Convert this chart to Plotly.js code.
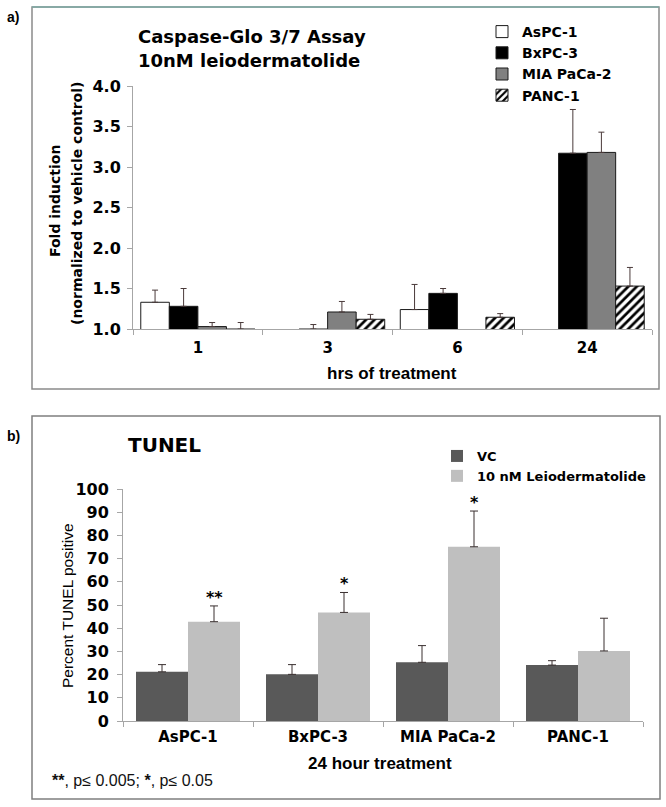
<!DOCTYPE html>
<html>
<head>
<meta charset="utf-8">
<script src="https://cdn.plot.ly/plotly-3.0.1.min.js"></script>
<style>html,body{margin:0;padding:0;background:#fff;}#chart{width:666px;height:807px;}</style>
</head>
<body>
<div id="chart"></div>
<script>
// ---------- Panel a data: Caspase-Glo 3/7 (fold induction) ----------
const hoursCats = ['1', '3', '6', '24'];
const aspc1 = [1.33, null, 1.24, null];
const aspc1Err = [0.15, null, 0.31, null];
const bxpc3 = [1.28, 1.00, 1.44, 3.17];
const bxpc3Err = [0.22, 0.055, 0.06, 0.54];
const miapaca2 = [1.03, 1.21, null, 3.18];
const miapaca2Err = [0.05, 0.13, null, 0.25];
const panc1 = [1.00, 1.12, 1.145, 1.53];
const panc1Err = [0.08, 0.06, 0.045, 0.23];
const yTicksA = [1.0, 1.5, 2.0, 2.5, 3.0, 3.5, 4.0];

// ---------- Panel b data: TUNEL (% positive) ----------
const cellLines = ['AsPC-1', 'BxPC-3', 'MIA PaCa-2', 'PANC-1'];
const vc = [21.2, 20.1, 25.3, 24.1];
const vcErr = [3.1, 4.2, 7.2, 1.9];
const leio = [42.8, 46.8, 75.1, 30.2];
const leioErr = [6.8, 8.6, 15.4, 14.1];
const sigMarks = ['**', '*', '*', ''];

const W = 666, H = 807;
const px = v => v / W;
const py = v => 1 - v / H;

const boldDV = (size) => ({family: 'DejaVu Sans', size: size, weight: 'bold', color: '#000'});
const boldLS = (size) => ({family: 'Liberation Sans', size: size, weight: 'bold', color: '#000'});

const errA = (arr) => ({type: 'data', array: arr, symmetric: false, arrayminus: arr.map(() => 0),
  color: '#4a3a3a', thickness: 1, width: 3});
const errB = (arr) => ({type: 'data', array: arr, symmetric: false, arrayminus: arr.map(() => 0),
  color: '#3a3030', thickness: 1, width: 4});

const wA = 0.22;
const traces = [
  {type: 'bar', name: 'AsPC-1', x: hoursCats, y: aspc1, error_y: errA(aspc1Err),
   width: wA, offset: -2 * wA, xaxis: 'x', yaxis: 'y', legend: 'legend',
   marker: {color: '#ffffff', line: {color: '#1a1a1a', width: 1}}},
  {type: 'bar', name: 'BxPC-3', x: hoursCats, y: bxpc3, error_y: errA(bxpc3Err),
   width: wA, offset: -wA, xaxis: 'x', yaxis: 'y', legend: 'legend',
   marker: {color: '#000000', line: {color: '#1a1a1a', width: 1}}},
  {type: 'bar', name: 'MIA PaCa-2', x: hoursCats, y: miapaca2, error_y: errA(miapaca2Err),
   width: wA, offset: 0, xaxis: 'x', yaxis: 'y', legend: 'legend',
   marker: {color: '#808080', line: {color: '#1a1a1a', width: 1}}},
  {type: 'bar', name: 'PANC-1', x: hoursCats, y: panc1, error_y: errA(panc1Err),
   width: wA, offset: wA, xaxis: 'x', yaxis: 'y', legend: 'legend',
   marker: {color: '#ffffff', line: {color: '#1a1a1a', width: 1},
            pattern: {shape: '/', fgcolor: '#000000', bgcolor: '#ffffff', size: 6, solidity: 0.45}}},
  {type: 'bar', name: 'VC', x: cellLines, y: vc, error_y: errB(vcErr),
   width: 0.4, offset: -0.4, xaxis: 'x2', yaxis: 'y2', legend: 'legend2',
   marker: {color: '#595959'}},
  {type: 'bar', name: '10 nM Leiodermatolide', x: cellLines, y: leio, error_y: errB(leioErr),
   width: 0.4, offset: 0, xaxis: 'x2', yaxis: 'y2', legend: 'legend2',
   marker: {color: '#bfbfbf'}}
];

const annotations = [
  {text: 'a)', x: px(5), y: py(17), xanchor: 'left', yanchor: 'middle', font: boldLS(14)},
  {text: 'Caspase-Glo 3/7 Assay', x: px(136), y: py(36), xanchor: 'left', yanchor: 'middle', font: boldDV(18)},
  {text: '10nM leiodermatolide', x: px(136), y: py(60), xanchor: 'left', yanchor: 'middle', font: boldDV(18)},
  {text: 'Fold induction', x: px(55), y: py(201), textangle: -90, xanchor: 'center', yanchor: 'middle', font: boldDV(14)},
  {text: '(normalized to vehicle control)', x: px(77), y: py(204), textangle: -90, xanchor: 'center', yanchor: 'middle', font: boldDV(14)},
  {text: 'hrs of treatment', x: px(392), y: py(373), xanchor: 'center', yanchor: 'middle', font: boldLS(17)},
  {text: 'b)', x: px(5), y: py(436), xanchor: 'left', yanchor: 'middle', font: boldLS(14)},
  {text: 'TUNEL', x: px(126), y: py(445), xanchor: 'left', yanchor: 'middle', font: boldDV(20)},
  {text: 'Percent TUNEL positive', x: px(67), y: py(606), textangle: -90, xanchor: 'center', yanchor: 'middle',
   font: {family: 'Liberation Sans', size: 15.5, color: '#000'}},
  {text: '24 hour treatment', x: px(380), y: py(763), xanchor: 'center', yanchor: 'middle', font: boldLS(17)},
  {text: '<b>**</b>, p≤ 0.005; <b>*</b>, p≤ 0.05', x: px(50), y: py(780), xanchor: 'left', yanchor: 'middle',
   font: {family: 'Liberation Sans', size: 16, color: '#111'}}
];
cellLines.forEach((c, i) => {
  if (sigMarks[i]) {
    annotations.push({text: sigMarks[i], xref: 'x2', yref: 'y2', x: c, y: leio[i] + leioErr[i],
      xshift: 26, yshift: -3, xanchor: 'center', yanchor: 'bottom', showarrow: false, font: boldDV(16)});
  }
});
annotations.forEach(a => { if (!a.xref) { a.xref = 'paper'; a.yref = 'paper'; } a.showarrow = false; });

const shapes = [
  {type: 'rect', xref: 'paper', yref: 'paper', x0: px(32), x1: px(659), y0: py(389), y1: py(7),
   line: {color: '#8a8a8a', width: 1.5}, fillcolor: 'rgba(0,0,0,0)'},
  {type: 'line', xref: 'paper', yref: 'paper', x0: px(32), x1: px(659), y0: py(7), y1: py(7),
   line: {color: '#7eaaa4', width: 1.5}},
  {type: 'rect', xref: 'paper', yref: 'paper', x0: px(32), x1: px(660), y0: py(799), y1: py(416),
   line: {color: '#7f7f7f', width: 1.5}, fillcolor: 'rgba(0,0,0,0)'}
];

const axisCommon = {showgrid: false, zeroline: false, showline: true, linecolor: '#a6a6a6', linewidth: 1,
  ticks: 'outside', tickcolor: '#a6a6a6', ticklen: 5, tickwidth: 1, fixedrange: true};

const layout = {
  width: W, height: H,
  margin: {l: 0, r: 0, t: 0, b: 0},
  paper_bgcolor: '#ffffff', plot_bgcolor: 'rgba(0,0,0,0)',
  barmode: 'group',
  showlegend: true,
  xaxis: Object.assign({}, axisCommon, {domain: [px(133), px(652)], anchor: 'y', type: 'category',
    categoryorder: 'array', categoryarray: hoursCats, range: [-0.5, 3.5], tickson: 'boundaries',
    ticklabelstandoff: 5, tickfont: boldDV(15)}),
  yaxis: Object.assign({}, axisCommon, {domain: [py(329), py(86)], anchor: 'x', range: [1, 4],
    tickmode: 'array', tickvals: yTicksA, ticktext: yTicksA.map(v => v.toFixed(1)),
    ticklabelstandoff: 3, tickfont: boldDV(16)}),
  xaxis2: Object.assign({}, axisCommon, {domain: [px(123), px(643)], anchor: 'y2', type: 'category',
    categoryorder: 'array', categoryarray: cellLines, range: [-0.5, 3.5], tickson: 'boundaries',
    ticklabelstandoff: 2, tickfont: boldDV(15)}),
  yaxis2: Object.assign({}, axisCommon, {domain: [py(721), py(489)], anchor: 'x2', range: [0, 100],
    dtick: 10, tick0: 0, ticklabelstandoff: 5, tickfont: boldDV(16)}),
  legend: {x: px(482), y: py(16), xanchor: 'left', yanchor: 'top', bgcolor: 'rgba(0,0,0,0)',
    font: boldDV(14), tracegroupgap: 0, itemwidth: 30, traceorder: 'normal'},
  legend2: {x: px(437), y: py(441), xanchor: 'left', yanchor: 'top', bgcolor: 'rgba(0,0,0,0)',
    font: boldDV(13), tracegroupgap: 0, itemwidth: 30, traceorder: 'normal'},
  annotations: annotations,
  shapes: shapes
};

Plotly.newPlot('chart', traces, layout, {displayModeBar: false, staticPlot: true});
</script>
</body>
</html>
